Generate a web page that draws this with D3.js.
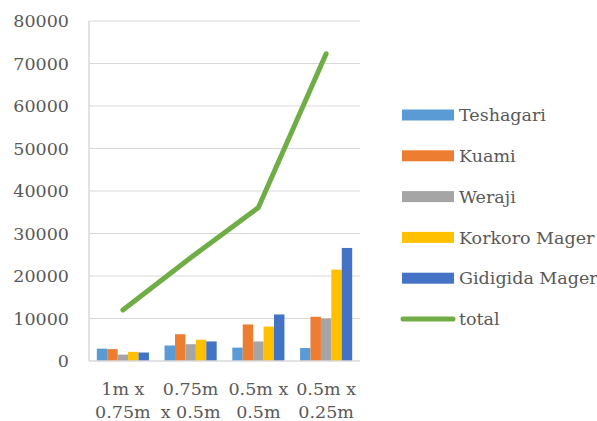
<!DOCTYPE html>
<html>
<head>
<meta charset="utf-8">
<script src="https://cdn.jsdelivr.net/npm/d3@7"></script>
<style>
  html, body { margin: 0; padding: 0; background: #fff; }
  svg { display: block; }
  text { font-family: "DejaVu Serif", "Liberation Serif", serif; fill: #595959; }
</style>
</head>
<body>
<svg id="chart" width="597" height="421"></svg>
<script>
// Plot sizes (two-line labels) and counts per species
const categories = [["1m x", "0.75m"], ["0.75m", "x 0.5m"], ["0.5m x", "0.5m"], ["0.5m x", "0.25m"]];
const seriesNames = ["Teshagari", "Kuami", "Weraji", "Korkoro Mager", "Gidigida Mager"];
const teshagari = [2900, 3650, 3150, 3050];
const kuami = [2800, 6300, 8600, 10400];
const weraji = [1500, 3950, 4600, 10000];
const korkoro = [2150, 5000, 8100, 21500];
const gidigida = [2000, 4600, 10950, 26600];
const total = [12000, 24300, 36100, 72300];
const yTicks = [0, 10000, 20000, 30000, 40000, 50000, 60000, 70000, 80000];

const colors = ["#5B9BD5", "#ED7D31", "#A5A5A5", "#FFC000", "#4472C4"];
const totalColor = "#70AD47";
const seriesValues = [teshagari, kuami, weraji, korkoro, gidigida];

const svg = d3.select("#chart");
const plotLeft = 89, plotRight = 360, plotTop = 21, plotBottom = 361;

const x = d3.scaleBand().domain(d3.range(categories.length)).range([plotLeft, plotRight]);
const y = d3.scaleLinear().domain([0, 80000]).range([plotBottom, plotTop]);

// gridlines
svg.append("g").selectAll("line").data(yTicks.filter(d => d > 0)).join("line")
  .attr("x1", plotLeft).attr("x2", plotRight)
  .attr("y1", d => y(d)).attr("y2", d => y(d))
  .attr("stroke", "#D9D9D9").attr("stroke-width", 1.2);

// y axis labels
const yAxis = d3.axisLeft(y).tickValues(yTicks).tickSize(0).tickPadding(20).tickFormat(d3.format("d"));
const gy = svg.append("g").attr("transform", `translate(${plotLeft},0)`).call(yAxis);
gy.select(".domain").remove();
gy.selectAll("text").attr("font-size", 17.5).attr("fill", "#595959")
  .style("font-family", '"DejaVu Serif", serif');

// bars
const groupWidth = x.bandwidth();
const barW = groupWidth / (5 + 1.5);
const inner = d3.scaleBand().domain(d3.range(5)).range([0, barW * 5]);
const groups = svg.append("g").selectAll("g").data(categories.map((c, i) => i)).join("g")
  .attr("transform", i => `translate(${x(i) + (groupWidth - barW * 5) / 2},0)`);
groups.selectAll("rect").data(i => seriesValues.map((s, k) => ({ k, v: s[i] }))).join("rect")
  .attr("x", d => inner(d.k))
  .attr("width", inner.bandwidth())
  .attr("y", d => y(d.v))
  .attr("height", d => plotBottom - y(d.v))
  .attr("fill", d => colors[d.k]);

// axis lines
svg.append("line").attr("x1", plotLeft).attr("x2", plotLeft).attr("y1", plotTop).attr("y2", plotBottom)
  .attr("stroke", "#D9D9D9").attr("stroke-width", 1.5);
svg.append("line").attr("x1", plotLeft).attr("x2", plotRight).attr("y1", plotBottom).attr("y2", plotBottom)
  .attr("stroke", "#D9D9D9").attr("stroke-width", 1.5);

// total line
const line = d3.line().x((d, i) => x(i) + groupWidth / 2).y(d => y(d));
svg.append("path").datum(total).attr("d", line)
  .attr("fill", "none").attr("stroke", totalColor).attr("stroke-width", 5)
  .attr("stroke-linecap", "round").attr("stroke-linejoin", "round");

// category labels
const xl = svg.append("g").selectAll("text").data(categories).join("text")
  .attr("text-anchor", "middle").attr("font-size", 17.5)
  .attr("x", (d, i) => x(i) + groupWidth / 2);
xl.selectAll("tspan").data(d => d).join("tspan")
  .attr("x", function () { return this.parentNode.getAttribute("x"); })
  .attr("y", (d, j) => 395 + j * 23)
  .text(d => d);

// legend
const legendItems = seriesNames.map((n, k) => ({ name: n, color: colors[k], line: false }))
  .concat([{ name: "total", color: totalColor, line: true }]);
const lg = svg.append("g").selectAll("g").data(legendItems).join("g")
  .attr("transform", (d, i) => `translate(402,${115 + i * 40.8})`);
lg.filter(d => !d.line).append("rect")
  .attr("x", 0).attr("y", -5.5).attr("width", 52).attr("height", 11).attr("fill", d => d.color);
lg.filter(d => d.line).append("line")
  .attr("x1", 1).attr("x2", 51).attr("y1", 0).attr("y2", 0)
  .attr("stroke", d => d.color).attr("stroke-width", 5).attr("stroke-linecap", "round");
lg.append("text").attr("x", 57).attr("y", 0).attr("dy", "0.35em")
  .attr("font-size", 17.5).text(d => d.name);
</script>
</body>
</html>
